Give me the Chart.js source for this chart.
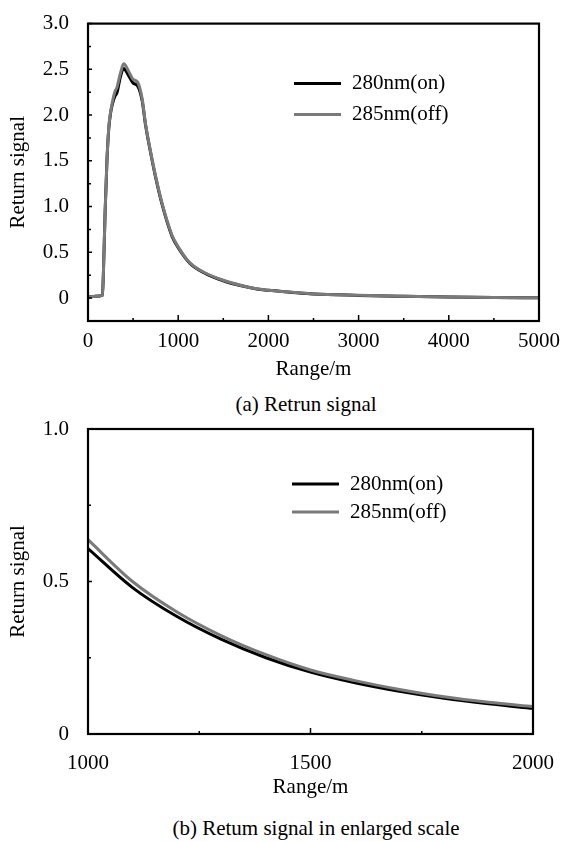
<!DOCTYPE html>
<html>
<head>
<meta charset="utf-8">
<script src="https://cdn.jsdelivr.net/npm/chart.js@4.4.1/dist/chart.umd.min.js"></script>
<style>
  body { margin: 0; background: #fff; width: 563px; height: 841px; position: relative; overflow: hidden; }
  canvas { position: absolute; left: 0; }
  .caption { position: absolute; width: 400px; text-align: center; font-family: "Liberation Serif", "DejaVu Serif", serif; font-size: 21px; line-height: 24px; color: #000; }
</style>
</head>
<body>
<canvas id="graficoA" width="563" height="385" style="top:0"></canvas>
<div class="caption" style="left:106px; top:392px;">(a) Retrun signal</div>
<canvas id="graficoB" width="563" height="400" style="top:400px"></canvas>
<div class="caption" style="left:116px; top:816px;">(b) Retum signal in enlarged scale</div>
<script>
// datos panel (a): rango completo
const rangoA = [0, 80, 160, 170, 190, 210, 230, 250, 270, 300, 320, 360, 395, 450, 500, 550, 600, 640, 690, 750, 820, 930, 1000, 1130, 1300, 1500, 1700, 1870, 2000, 2240, 2500, 3000, 3500, 4000, 4500, 5000];
const on280A = [0.01, 0.02, 0.03, 0.25, 0.95, 1.5, 1.85, 2.02, 2.12, 2.21, 2.24, 2.42, 2.51, 2.43, 2.35, 2.32, 2.16, 1.88, 1.61, 1.32, 1.03, 0.68, 0.55, 0.38, 0.27, 0.19, 0.135, 0.1, 0.085, 0.065, 0.045, 0.03, 0.02, 0.012, 0.006, 0.003];
const off285A = [0.01, 0.02, 0.03, 0.25, 0.95, 1.5, 1.86, 2.03, 2.14, 2.26, 2.3, 2.46, 2.56, 2.48, 2.39, 2.36, 2.18, 1.89, 1.62, 1.33, 1.04, 0.69, 0.56, 0.385, 0.275, 0.195, 0.138, 0.102, 0.087, 0.066, 0.046, 0.031, 0.02, 0.012, 0.006, 0.003];
const ticksXA = [0, 1000, 2000, 3000, 4000, 5000];
const menoresXA = [500, 1500, 2500, 3500, 4500];
const ticksYA = [0, 0.5, 1.0, 1.5, 2.0, 2.5, 3.0];
const menoresYA = [-0.25, 0.25, 0.75, 1.25, 1.75, 2.25, 2.75];

// datos panel (b): escala ampliada
const rangoB = [1000, 1100, 1200, 1300, 1400, 1500, 1600, 1700, 1800, 1900, 2000];
const on280B = [0.608, 0.48, 0.385, 0.31, 0.25, 0.203, 0.168, 0.14, 0.117, 0.099, 0.084];
const off285B = [0.637, 0.5, 0.4, 0.322, 0.26, 0.21, 0.175, 0.146, 0.122, 0.104, 0.09];
const ticksXB = [1000, 1500, 2000];
const menoresXB = [1250, 1750];
const ticksYB = [0, 0.5, 1.0];
const menoresYB = [0.25, 0.75];

const etiquetas = ['280nm(on)', '285nm(off)'];
const colores = ['#000000', '#7a7a7a'];
const fuente = '"Liberation Serif", "DejaVu Serif", serif';

Chart.defaults.font.family = fuente;
Chart.defaults.color = '#000';

// marco del grafico + ticks hacia adentro
const marcoTicks = {
    id: 'marcoTicks',
    afterDraw(chart, args, opts) {
        const { ctx, chartArea: a } = chart;
        const x = chart.scales.x, y = chart.scales.y;
        ctx.save();
        ctx.strokeStyle = '#000';
        ctx.lineWidth = 1.5;
        ctx.beginPath();
        opts.xMayor.forEach(v => { const p = x.getPixelForValue(v); ctx.moveTo(p, a.bottom); ctx.lineTo(p, a.bottom - 6); });
        opts.xMenor.forEach(v => { const p = x.getPixelForValue(v); ctx.moveTo(p, a.bottom); ctx.lineTo(p, a.bottom - 3); });
        opts.yMayor.forEach(v => { const p = y.getPixelForValue(v); ctx.moveTo(a.left, p); ctx.lineTo(a.left + 4, p); });
        opts.yMenor.forEach(v => { const p = y.getPixelForValue(v); ctx.moveTo(a.left, p); ctx.lineTo(a.left + 3, p); });
        ctx.stroke();
        ctx.lineWidth = 2.2;
        ctx.strokeRect(a.left, a.top, a.right - a.left, a.bottom - a.top);
        ctx.restore();
    }
};

// leyenda dentro del area del grafico
const leyendaInterna = {
    id: 'leyendaInterna',
    afterDraw(chart, args, opts) {
        const { ctx, chartArea: a } = chart;
        ctx.save();
        ctx.font = '21px ' + fuente;
        ctx.textBaseline = 'middle';
        ctx.fillStyle = '#000';
        etiquetas.forEach((txt, i) => {
            const yy = a.top + opts.dy + i * opts.gap;
            ctx.strokeStyle = colores[i];
            ctx.lineWidth = 3;
            ctx.beginPath();
            ctx.moveTo(a.left + opts.dx, yy);
            ctx.lineTo(a.left + opts.dx + 47, yy);
            ctx.stroke();
            ctx.fillText(txt, a.left + opts.dx + 58, yy);
        });
        ctx.restore();
    }
};

function crearGrafico(id, rango, on, off, cfg) {
    const puntos = (xs, ys) => xs.map((v, i) => ({ x: v, y: ys[i] }));
    return new Chart(document.getElementById(id), {
        type: 'line',
        data: {
            datasets: [{
                label: etiquetas[0],
                data: puntos(rango, on),
                borderColor: colores[0],
                borderWidth: 3,
                order: 1
            }, {
                label: etiquetas[1],
                data: puntos(rango, off),
                borderColor: colores[1],
                borderWidth: 3,
                order: 0
            }]
        },
        options: {
            responsive: false,
            animation: false,
            events: [],
            cubicInterpolationMode: 'monotone',
            elements: { point: { radius: 0 } },
            layout: { padding: { top: cfg.padTop, right: cfg.padRight, left: 0, bottom: 0 } },
            plugins: {
                legend: { display: false },
                tooltip: { enabled: false },
                marcoTicks: { xMayor: cfg.ticksX, xMenor: cfg.menoresX, yMayor: cfg.ticksY, yMenor: cfg.menoresY },
                leyendaInterna: cfg.leyenda
            },
            scales: {
                x: {
                    type: 'linear',
                    min: cfg.xMin, max: cfg.xMax,
                    grid: { display: false },
                    border: { display: false },
                    afterBuildTicks: (eje) => { eje.ticks = cfg.ticksX.map(v => ({ value: v })); },
                    afterFit: (eje) => { eje.height = cfg.altoX; },
                    ticks: { font: { size: 21 }, padding: cfg.padTickX, maxRotation: 0, callback: (v) => String(v) },
                    title: { display: true, text: 'Range/m', font: { size: 21 }, padding: { top: 0, bottom: cfg.padTituloX } }
                },
                y: {
                    type: 'linear',
                    min: cfg.yMin, max: cfg.yMax,
                    grid: { display: false },
                    border: { display: false },
                    afterBuildTicks: (eje) => { eje.ticks = cfg.ticksY.map(v => ({ value: v })); },
                    afterFit: (eje) => { eje.width = 88; },
                    ticks: { font: { size: 21 }, padding: 11, callback: (v) => v === 0 ? '0' : v.toFixed(1) },
                    title: { display: true, text: 'Return signal', font: { size: 21 }, padding: { top: 6, bottom: 0 } }
                }
            }
        },
        plugins: [marcoTicks, leyendaInterna]
    });
}

crearGrafico('graficoA', rangoA, on280A, off285A, {
    xMin: 0, xMax: 5000, yMin: -0.25, yMax: 3.0,
    ticksX: ticksXA, menoresX: menoresXA, ticksY: ticksYA, menoresY: menoresYA,
    padTop: 16, padRight: 24, altoX: 64, padTickX: 0, padTituloX: 3,
    leyenda: { dx: 206, dy: 60, gap: 31 }
});

crearGrafico('graficoB', rangoB, on280B, off285B, {
    xMin: 1000, xMax: 2000, yMin: 0, yMax: 1.0,
    ticksX: ticksXB, menoresX: menoresXB, ticksY: ticksYB, menoresY: menoresYB,
    padTop: 29, padRight: 22, altoX: 66, padTickX: 9, padTituloX: 0,
    leyenda: { dx: 204, dy: 55, gap: 28 }
});
</script>
</body>
</html>
